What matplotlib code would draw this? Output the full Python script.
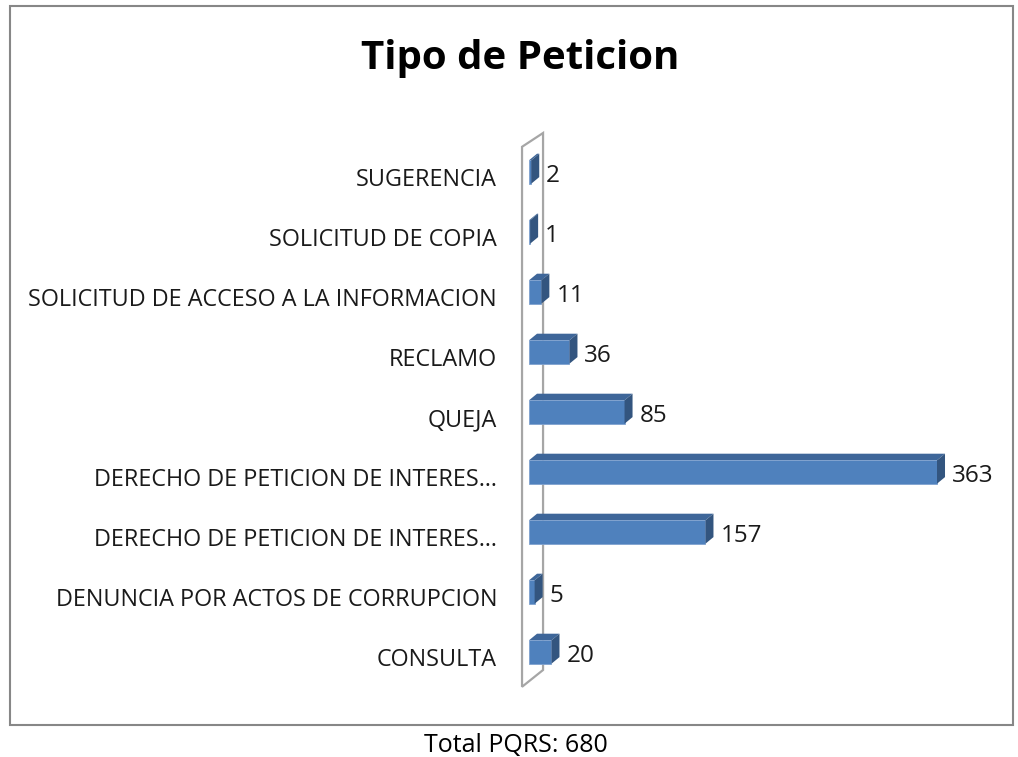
import matplotlib.pyplot as plt
from matplotlib.patches import Polygon, Rectangle

plt.rcParams['font.family'] = ['Open Sans', 'DejaVu Sans']

# datos (de abajo hacia arriba)
categorias = [
    'CONSULTA',
    'DENUNCIA POR ACTOS DE CORRUPCION',
    'DERECHO DE PETICION DE INTERES…',
    'DERECHO DE PETICION DE INTERES…',
    'QUEJA',
    'RECLAMO',
    'SOLICITUD DE ACCESO A LA INFORMACION',
    'SOLICITUD DE COPIA',
    'SUGERENCIA',
]
valores = [20, 5, 157, 363, 85, 36, 11, 1, 2]
total = 680

W, H = 1018, 757
fig = plt.figure(figsize=(W / 100, H / 100), dpi=100)

# marco del grafico
fig.patches.append(Rectangle((10 / W, 1 - 725 / H), 1003 / W, 719 / H,
                             transform=fig.transFigure, fill=False,
                             edgecolor='#878787', linewidth=1.5))

ax = fig.add_axes([500 / W, 1 - 700 / H, 500 / W, 570 / H])
px = 1.124  # pixeles por unidad
ax.set_xlim(-29 / px, 500 / px - 29 / px)
ax.set_ylim(-0.8, len(valores) - 1 + 42 / 60)
ax.axis('off')

dx = 8 / px
dy = 0.11
h = 0.39

# pared lateral 3D
y_bot, y_top = -0.58, len(valores) - 1 + 0.42
wall = [(-6.2, y_bot), (-6.2, y_top), (12.5, y_top + 0.23), (12.5, y_bot + 0.28)]
ax.add_patch(Polygon(wall, closed=True, fill=False, edgecolor='#A6A6A6',
                     linewidth=1.6, zorder=1))

for i, (cat, v) in enumerate(zip(categorias, valores)):
    y0, y1 = i - h / 2, i + h / 2
    ax.barh(i, v, height=h, left=0, color='#4F81BD', edgecolor='#7FA2CF',
            linewidth=0.6, zorder=3)
    top = [(0, y1), (v, y1), (v + dx, y1 + dy), (dx, y1 + dy)]
    side = [(v, y0), (v + dx, y0 + dy), (v + dx, y1 + dy), (v, y1)]
    ax.add_patch(Polygon(top, closed=True, facecolor='#3E6699', edgecolor='none', zorder=2))
    ax.add_patch(Polygon(side, closed=True, facecolor='#33557F', edgecolor='none', zorder=4))
    ax.annotate(str(v), (v + dx, i), xytext=(5, -3), textcoords='offset points',
                ha='left', va='center', fontsize=17.5, color='#1A1A1A')
    ax.annotate(cat, (-6.2, i), xytext=(-18, -6), textcoords='offset points',
                ha='right', va='center', fontsize=16.8, color='#1A1A1A')

fig.text(520 / W, 1 - 58 / H, 'Tipo de Peticion', ha='center', va='center',
         fontsize=29, fontweight='bold')
fig.text(516 / W, 1 - 745 / H, f'Total PQRS: {total}', ha='center', va='center',
         fontsize=18)

plt.savefig('out.png', dpi=100)
